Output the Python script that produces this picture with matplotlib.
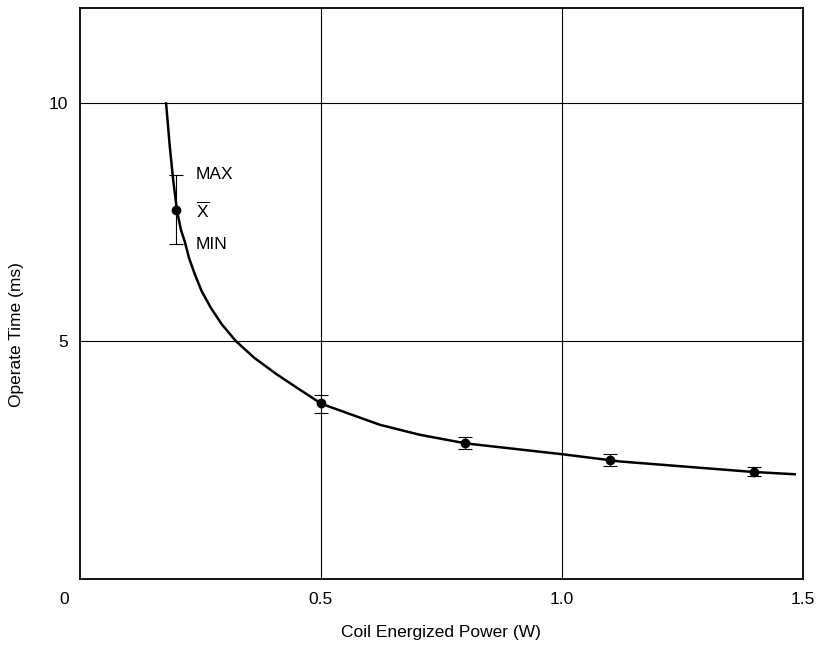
import matplotlib
matplotlib.use("Agg")
import matplotlib.pyplot as plt

plt.rcParams['font.family'] = ['Liberation Sans', 'DejaVu Sans']
plt.rcParams['mathtext.fontset'] = 'custom'
plt.rcParams['mathtext.rm'] = 'Liberation Sans'

# Measured points (mean with min/max)
power = [0.2, 0.5, 0.8, 1.1, 1.4]
t_mean = [7.75, 3.69, 2.85, 2.50, 2.25]
t_max = [8.50, 3.86, 2.99, 2.63, 2.35]
t_min = [7.04, 3.49, 2.73, 2.38, 2.17]

# Fitted curve
curve_x = [0.179, 0.187, 0.194, 0.202, 0.210, 0.218, 0.227, 0.239, 0.253,
           0.272, 0.295, 0.324, 0.362, 0.409, 0.461, 0.502, 0.623, 0.706,
           0.801, 1.003, 1.121, 1.397, 1.486]
curve_y = [10.02, 9.08, 8.38, 7.73, 7.34, 7.09, 6.74, 6.40, 6.05,
           5.70, 5.35, 5.00, 4.65, 4.30, 3.95, 3.68, 3.24, 3.03,
           2.85, 2.62, 2.47, 2.25, 2.20]

x_ticks = [0.5, 1.0, 1.5]
x_ticklabels = ['0.5', '1.0', '1.5']
y_ticks = [5, 10]
y_ticklabels = ['5', '10']

FS = 12.5

fig = plt.figure(figsize=(8.16, 6.46), dpi=100)
ax = fig.add_axes([79.7/816, 67/646, 723/816, 571/646])
ax.set_xlim(0, 1.5)
ax.set_ylim(0, 12)

for v in [0.5, 1.0]:
    ax.axvline(v, color='black', lw=0.8, zorder=1)
for v in y_ticks:
    ax.axhline(v, color='black', lw=0.8, zorder=1)

ax.plot(curve_x, curve_y, color='black', lw=1.8, zorder=3,
        solid_capstyle='butt', solid_joinstyle='round')

yerr = [[m - lo for m, lo in zip(t_mean, t_min)], [hi - m for m, hi in zip(t_mean, t_max)]]
ax.errorbar(power, t_mean, yerr=yerr, fmt='o', color='black', ms=6,
            ecolor='black', elinewidth=0.8, capsize=5, capthick=0.8, zorder=4)

ax.text(0.241, t_max[0], 'MAX', fontsize=FS, va='center', ha='left')
ax.text(0.241, t_mean[0], r'$\overline{\mathrm{X}}$', fontsize=FS, va='center', ha='left')
ax.text(0.241, t_min[0], 'MIN', fontsize=FS, va='center', ha='left')

ax.set_xticks(x_ticks)
ax.set_xticklabels(x_ticklabels)
ax.set_yticks(y_ticks)
ax.set_yticklabels(y_ticklabels)
ax.tick_params(length=0, labelsize=FS)
ax.tick_params(axis='x', pad=9)
ax.tick_params(axis='y', pad=8.5)
ax.text(64/816, (646-600)/646, '0', transform=fig.transFigure, fontsize=FS,
        ha='center', va='center')

for s in ax.spines.values():
    s.set_linewidth(1.3)
    s.set_color('black')

fig.text(441/816, (646-633)/646, 'Coil Energized Power (W)', fontsize=FS,
         ha='center', va='center')
fig.text(17/816, (646-335)/646, 'Operate Time (ms)', fontsize=FS,
         ha='center', va='center', rotation=90)

fig.savefig('out.png', dpi=100)
